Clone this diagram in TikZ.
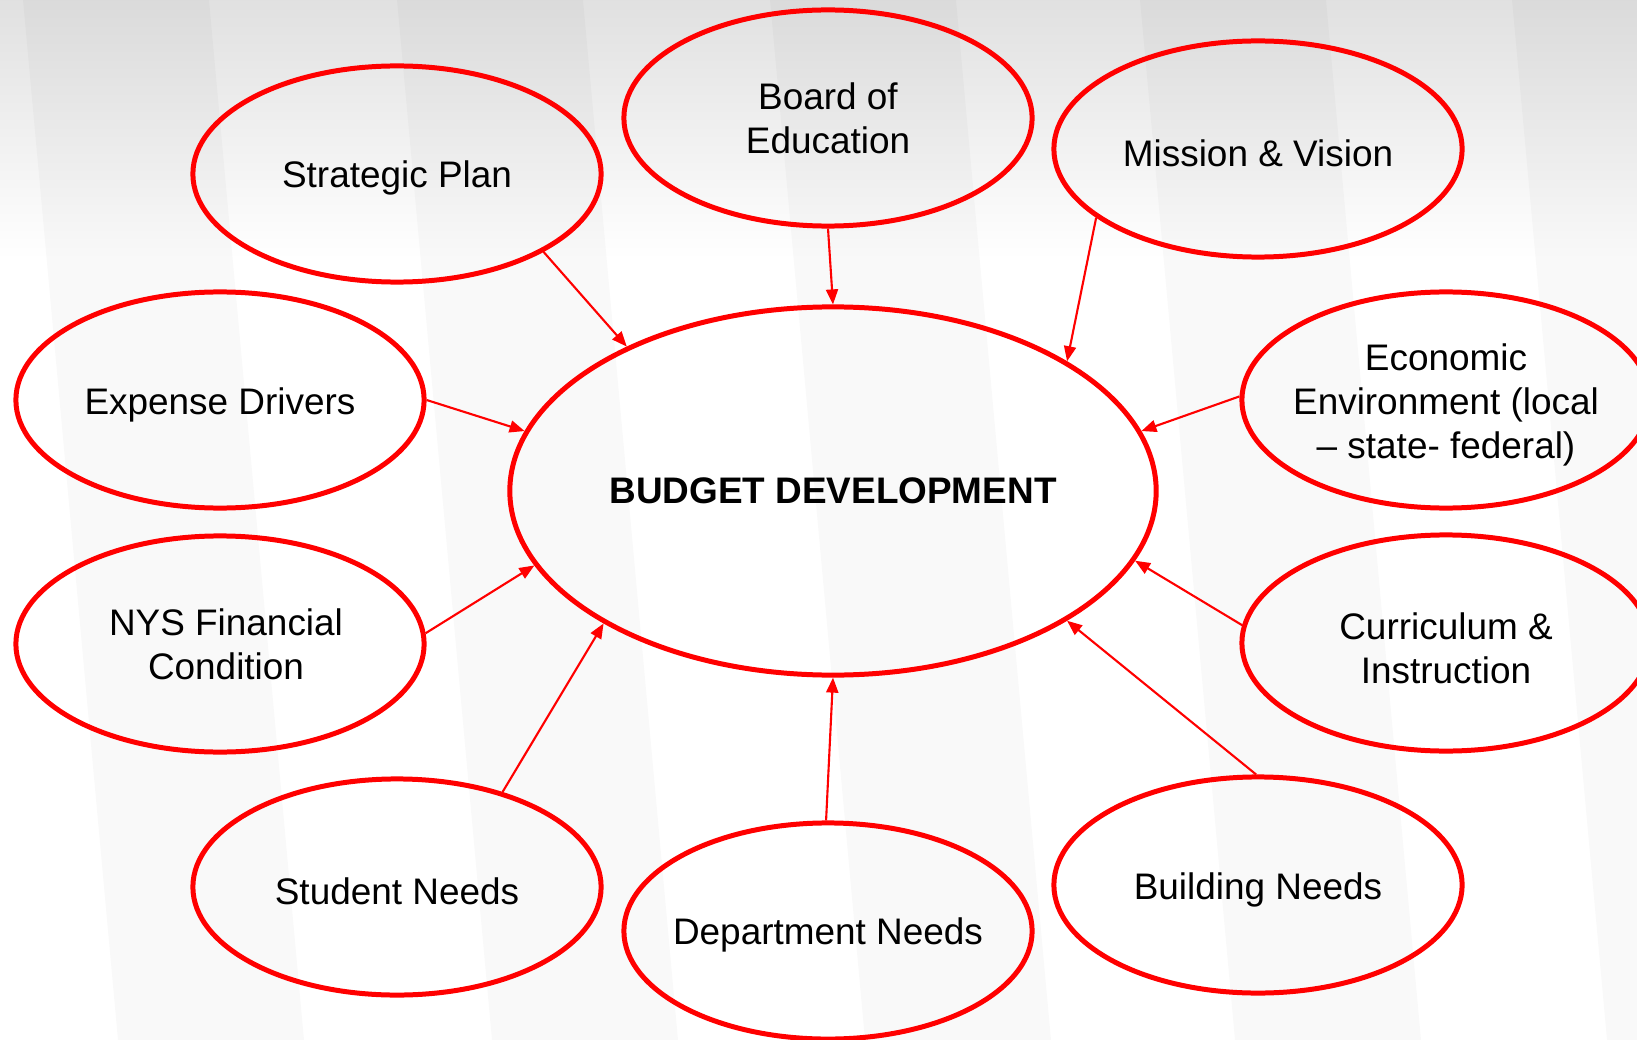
\documentclass[tikz,border=0pt]{standalone}
\usepackage{fontspec}
\setmainfont{Liberation Sans}
\usetikzlibrary{arrows.meta,shapes.geometric}
\definecolor{redline}{RGB}{255,0,0}
\begin{document}
\begin{tikzpicture}[x=0.01cm,y=-0.01cm,
  bubble/.style={ellipse,draw=redline,line width=1.42pt,inner sep=0pt,
    minimum width=4.08cm,minimum height=2.16cm},
  txt/.style={align=center,font=\fontsize{10.5pt}{12.6pt}\selectfont,text=black,inner sep=0pt},
  core/.style={ellipse,draw=redline,line width=1.42pt,inner sep=0pt,minimum width=6.46cm,minimum height=3.68cm,
    font=\fontsize{10.5pt}{12.6pt}\selectfont\bfseries},
  link/.style={draw=redline,line width=0.6pt,-{Triangle[length=0.15cm,width=0.12cm]}},
  stripe/.style={fill=black,fill opacity=0.022,draw=none}]
\useasboundingbox (0,0) rectangle (1637,1040);
\clip (0,0) rectangle (1637,1040);
\fill[white] (0,0) rectangle (1637,1040);
\shade[top color=black!12,bottom color=white] (0,0) rectangle (1637,260);
\foreach \a in {23,397,770,1140,1512}{
  \fill[stripe] (\a,0) -- (\a+186,0) -- (\a+186+95,1040) -- (\a+95,1040) -- cycle;
}
\node[core] (bd) at (833,491) {BUDGET DEVELOPMENT};
\node[bubble,label={[txt,yshift=-0.04cm]center:Strategic Plan}] (sp) at (397,174) {};
\node[bubble,label={[txt]center:Board of\\Education}] (boe) at (828,118) {};
\node[bubble,label={[txt,yshift=-0.04cm]center:Mission \& Vision}] (mv) at (1258,149) {};
\node[bubble,label={[txt,yshift=-0.05cm]center:Expense Drivers}] (ed) at (220,400) {};
\node[bubble,label={[txt,yshift=-0.05cm]center:Economic\\Environment (local\\– state- federal)}] (ee) at (1446,400) {};
\node[bubble,label={[txt,xshift=0.06cm]center:NYS Financial\\Condition}] (nys) at (220,644) {};
\node[bubble,label={[txt,yshift=-0.05cm]center:Curriculum \&\\Instruction}] (ci) at (1446,643) {};
\node[bubble,label={[txt,yshift=-0.04cm]center:Student Needs}] (sn) at (397,887) {};
\node[bubble,label={[txt,yshift=-0.04cm]center:Department Needs}] (dn) at (828,931) {};
\node[bubble,label={[txt,yshift=-0.05cm]center:Building Needs}] (bn) at (1258,885) {};
\draw[link] (sp.-28) -- (bd.145.3);
\draw[link] (boe.-90.5) -- (bd.90);
\draw[link] (mv.-157.6) -- (bd.29.8);
\draw[link] (ed.0.3) -- (bd.169.2);
\draw[link] (ee.179.2) -- (bd.11);
\draw[link] (nys.3.9) -- (bd.194.4);
\draw[link] (ci.175.8) -- (bd.-13.9);
\draw[link] (sn.42.1) -- (bd.210.1);
\draw[link] (dn.91.5) -- (bd.-90);
\draw[link] (bn.91.6) -- (bd.-29.7);
\end{tikzpicture}
\end{document}
